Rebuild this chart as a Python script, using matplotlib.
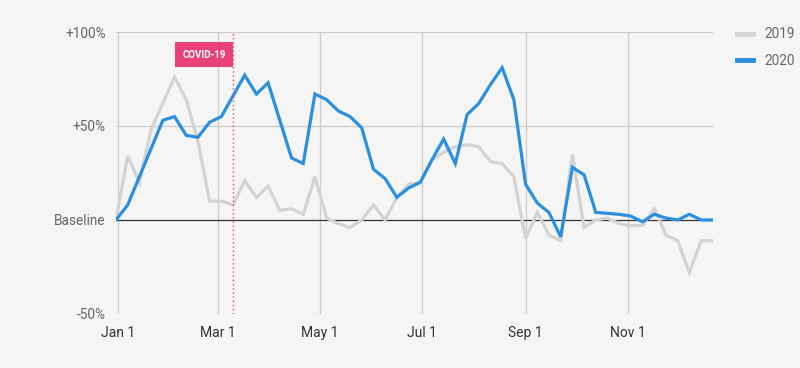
import numpy as np
import matplotlib
matplotlib.use("Agg")
import matplotlib.pyplot as plt

plt.rcParams['font.family'] = ['Roboto', 'DejaVu Sans']

# weekly change vs. baseline, in percent
values_2019 = [0, 34, 20, 48, 62, 76, 64, 42, 10, 10, 8, 21, 12, 18, 5, 6, 3, 23,
               1, -2, -4, 0, 8, 0, 12, 19, 20, 32, 36, 39, 40, 39, 31, 30, 23, -10,
               4, -8, -11, 35, -4, 0, 1, -2, -3, -3, 6, -8, -11, -28, -11, -11]
values_2020 = [0, 8, 23, 38, 53, 55, 45, 44, 52, 55, 66, 77, 67, 73, 53, 33, 30, 67,
               64, 58, 55, 49, 27, 22, 12, 17, 20, 32, 43, 30, 56, 62, 72, 81, 64, 19,
               9, 4, -9, 28, 24, 4, 3.5, 3, 2, -1, 3, 1, 0, 3, 0, 0]

month_days = [0, 60, 121, 182, 244, 305]
month_labels = ['Jan 1', 'Mar 1', 'May 1', 'Jul 1', 'Sep 1', 'Nov 1']
ytick_vals = [-50, 0, 50, 100]
ytick_labels = ['-50%', 'Baseline', '+50%', '+100%']
covid_day = 69

bg = '#f5f5f5'
blue = '#2b8fe0'
gray = '#d3d3d3'
pink = '#e8407a'


def main():
    days = np.arange(len(values_2020)) * 7 - 1

    fig = plt.figure(figsize=(8, 3.68), dpi=100, facecolor=bg)
    ax = fig.add_axes([0.145, 0.147, 0.746, 0.766], facecolor=bg)

    ax.plot(days, values_2019, color=gray, lw=2.3, label='2019', zorder=3,
            solid_joinstyle='miter')
    ax.plot(days, values_2020, color=blue, lw=2.3, label='2020', zorder=4,
            solid_joinstyle='miter')

    ax.axhline(0, color='#333333', lw=0.9, zorder=2)
    for y in [-50, 50, 100]:
        ax.axhline(y, color='#cccccc', lw=0.9, zorder=1)
    for d in month_days:
        ax.axvline(d, color='#cccccc', lw=0.9, zorder=1)

    ax.axvline(covid_day, color=pink, lw=1, ls=(0, (1, 2)), zorder=5)
    ax.text(covid_day - 4.2, 88, 'COVID-19', color='white', fontsize=7,
            fontweight='bold', ha='right', va='center', zorder=6,
            bbox=dict(boxstyle='square,pad=0.75', fc=pink, ec='none'))

    ax.set_xlim(days[0], days[-1])
    ax.set_ylim(-50, 100)
    ax.set_xticks(month_days)
    ax.set_xticklabels(month_labels, fontsize=10, color='#333333')
    ax.set_yticks(ytick_vals)
    ax.set_yticklabels(ytick_labels, fontsize=9.8, color='#666666')
    ax.tick_params(axis='y', length=0, pad=7.5)
    ax.tick_params(axis='x', length=0, pad=9)
    for s in ax.spines.values():
        s.set_visible(False)

    leg = ax.legend(loc='upper left', bbox_to_anchor=(1.02, 1.06), frameon=False,
                    fontsize=9.8, handlelength=1.2, labelspacing=0.9,
                    handletextpad=0.8)
    for t in leg.get_texts():
        t.set_color('#666666')
    for h in leg.get_lines():
        h.set_linewidth(3.5)

    fig.savefig('out.png', dpi=100, facecolor=bg)


if __name__ == '__main__':
    main()
